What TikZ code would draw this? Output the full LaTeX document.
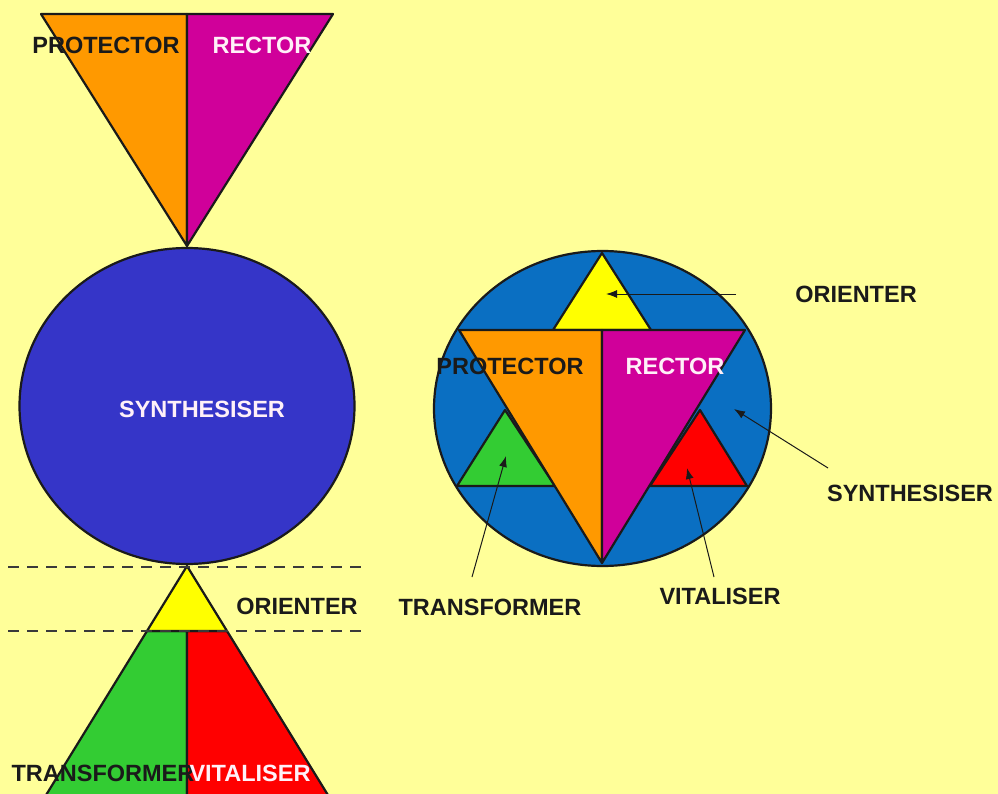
\documentclass[tikz,border=0pt]{standalone}
\usepackage{fontspec}
\setmainfont{Liberation Sans}
\usetikzlibrary{arrows.meta}
\definecolor{bg}{HTML}{FFFF99}
\definecolor{orangeF}{HTML}{FF9900}
\definecolor{magentaF}{HTML}{D0009A}
\definecolor{blueL}{HTML}{3535C8}
\definecolor{blueR}{HTML}{0A6FC2}
\definecolor{yellowF}{HTML}{FFFF00}
\definecolor{greenF}{HTML}{33CC33}
\definecolor{redF}{HTML}{FF0000}
\definecolor{edge}{HTML}{1A1A1A}
\definecolor{txtdark}{HTML}{1A1A1A}
\definecolor{txtlight}{HTML}{FFF0F8}
\definecolor{dashc}{HTML}{3A3A3A}
\begin{document}
\begin{tikzpicture}[x=1pt,y=-1pt,
  shapeline/.style={draw=edge,line width=2.2pt,line join=round},
  lbl/.style={font=\fontsize{23.5}{26}\selectfont\bfseries,text=txtdark,inner sep=0pt},
  lbllight/.style={lbl,text=txtlight},
  ptr/.style={draw=edge,line width=1pt,-{Latex[length=11pt,width=8pt]}},
  sep/.style={draw=dashc,line width=2.5pt,dash pattern=on 11pt off 8pt}]
\clip (0,0) rectangle (998,794);
\fill[bg] (0,0) rectangle (998,794);

% ---------- left column ----------
% top inverted triangle
\filldraw[fill=orangeF,shapeline] (41,14) -- (187,14) -- (187,246) -- cycle;
\filldraw[fill=magentaF,shapeline] (187,14) -- (333,14) -- (187,246) -- cycle;
% synthesiser ellipse
\filldraw[fill=blueL,shapeline] (187,406) ellipse [x radius=167.5, y radius=158];
% lower triangle
\filldraw[fill=greenF,shapeline] (187,631) -- (147,631) -- (43,800) -- (187,800) -- cycle;
\filldraw[fill=redF,shapeline] (187,631) -- (227,631) -- (331,800) -- (187,800) -- cycle;
\filldraw[fill=yellowF,shapeline] (187,566) -- (147,631) -- (227,631) -- cycle;
% dashed separators
\draw[sep] (8,567) -- (362,567);
\draw[sep] (8,631) -- (362,631);

\node[lbl] (lprot) at (106,45) {PROTECTOR};
\node[lbllight] (lrect) at (262,45) {RECTOR};
\node[lbllight] (lsyn) at (202,409) {SYNTHESISER};
\node[lbl] (lori) at (297,606) {ORIENTER};
\node[lbl] (ltra) at (103,773) {TRANSFORMER};
\node[lbllight] (lvit) at (250,773) {VITALISER};

% ---------- right column ----------
\filldraw[fill=blueR,shapeline] (602.5,408.5) ellipse [x radius=168.5, y radius=157.5];
% upward triangle corners
\filldraw[fill=yellowF,shapeline] (602,253) -- (553,330) -- (651,330) -- cycle;
\filldraw[fill=greenF,shapeline] (457,486) -- (505,410) -- (555,486) -- cycle;
\filldraw[fill=redF,shapeline] (747,486) -- (700,410) -- (650,486) -- cycle;
% downward triangle
\filldraw[fill=orangeF,shapeline] (459,330) -- (602,330) -- (602,563) -- cycle;
\filldraw[fill=magentaF,shapeline] (602,330) -- (745,330) -- (602,563) -- cycle;

\node[lbl] (rprot) at (510,366) {PROTECTOR};
\node[lbllight] (rrect) at (675,366) {RECTOR};
\node[lbl] (rori) at (856,294) {ORIENTER};
\node[lbl] (rsyn) at (910,493) {SYNTHESISER};
\node[lbl] (rtra) at (490,607) {TRANSFORMER};
\node[lbl] (rvit) at (720,596) {VITALISER};

\coordinate (oriS) at (736,294);
\coordinate (oriT) at (606,294);
\coordinate (synS) at (828,468);
\coordinate (synT) at (734,409);
\coordinate (traS) at (472,577);
\coordinate (traT) at (506,456);
\coordinate (vitS) at (714,577);
\coordinate (vitT) at (687,468);
\draw[ptr] (oriS) -- (oriT);
\draw[ptr] (synS) -- (synT);
\draw[ptr] (traS) -- (traT);
\draw[ptr] (vitS) -- (vitT);
\end{tikzpicture}
\end{document}
